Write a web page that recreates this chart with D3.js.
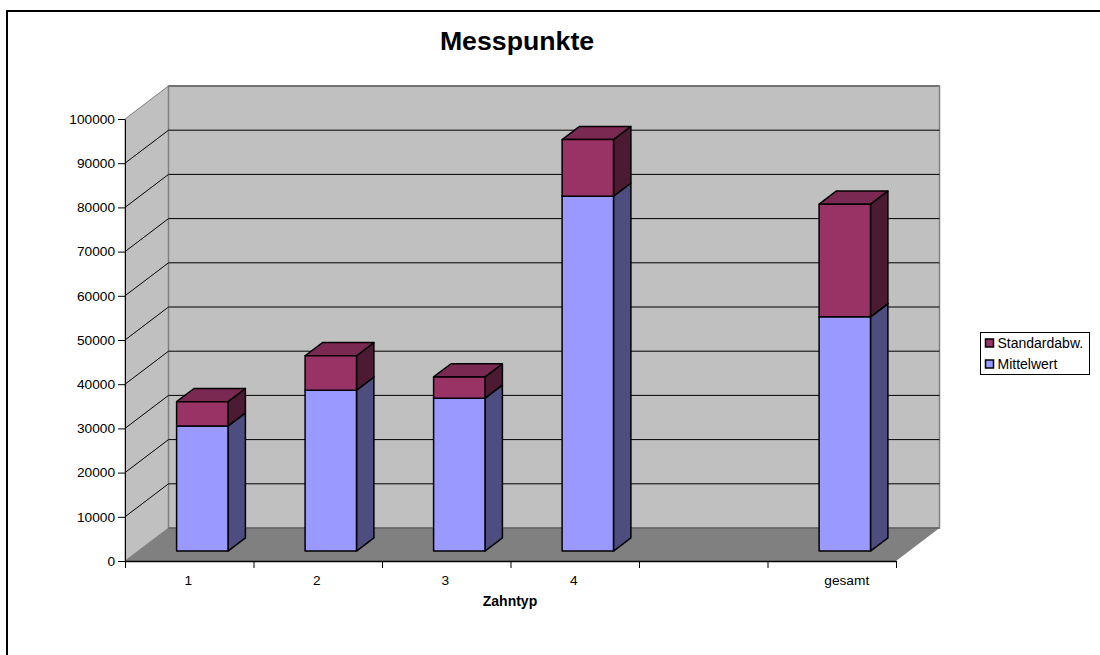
<!DOCTYPE html>
<html>
<head>
<meta charset="utf-8">
<script src="https://cdn.jsdelivr.net/npm/d3@7"></script>
<style>
  html, body { margin: 0; padding: 0; background: #fff; }
  svg { display: block; }
  text { font-family: "Liberation Sans", Arial, sans-serif; fill: #000; }
</style>
</head>
<body>
<div id="chart"></div>
<script>
const categories = ["1", "2", "3", "4", "", "gesamt"];
const mittelwert = [28300, 36400, 34600, 80300, null, 53000];
const standardabw = [5500, 7800, 4800, 12800, null, 25500];
const yTicks = [0, 10000, 20000, 30000, 40000, 50000, 60000, 70000, 80000, 90000, 100000];

const width = 1100, height = 655;
const plot = { left: 125, right: 896, top: 119, bottom: 561 };
const depth = { dx: 43.5, dy: -33 };
// bars stand from 30% to 70% of the floor depth
const barDepth = [0.3, 0.7];
const labelSize = "13.7px";

const colors = {
  wall: "#c0c0c0", floor: "#808080", wallEdge: "#808080",
  mean: ["#9999ff", "#7a7acc", "#4d4d80"],
  sd: ["#993366", "#7a2952", "#4d1a33"]
};

const svg = d3.select("#chart").append("svg")
  .attr("width", width)
  .attr("height", height);

const xScale = d3.scaleBand()
  .domain(d3.range(categories.length))
  .range([plot.left, plot.right])
  .paddingInner(0.6)
  .paddingOuter(0.3);

const slot = xScale.step();
const yScale = d3.scaleLinear().domain([0, 100000]).range([plot.bottom, plot.top]);

// project x / y / depth (0..1) on to the page
const pt = (x, y, z) => [x + depth.dx * z, y + depth.dy * z];
const poly = (pts) => pts.map(p => p.join(",")).join(" ");

// frame, only top and left are visible in the picture
svg.append("line").attr("x1", 6.5).attr("x2", width).attr("y1", 11).attr("y2", 11)
  .attr("stroke", "#000").attr("stroke-width", 2);
svg.append("line").attr("x1", 7).attr("x2", 7).attr("y1", 10).attr("y2", height)
  .attr("stroke", "#000").attr("stroke-width", 2);

// walls
const y0 = yScale(0), yMax = yScale(100000);
svg.append("polygon")
  .attr("points", poly([pt(plot.left, y0, 0), pt(plot.left, yMax, 0), pt(plot.left, yMax, 1), pt(plot.left, y0, 1)]))
  .attr("fill", colors.wall).attr("stroke", colors.wallEdge).attr("stroke-width", 1);
svg.append("polygon")
  .attr("points", poly([pt(plot.left, y0, 1), pt(plot.left, yMax, 1), pt(plot.right, yMax, 1), pt(plot.right, y0, 1)]))
  .attr("fill", colors.wall).attr("stroke", colors.wallEdge).attr("stroke-width", 1.5);
svg.append("polygon")
  .attr("points", poly([pt(plot.left, y0, 0), pt(plot.right, y0, 0), pt(plot.right, y0, 1), pt(plot.left, y0, 1)]))
  .attr("fill", colors.floor).attr("stroke", "none");

// gridlines along side wall and back wall
const grid = svg.append("g").attr("fill", "none").attr("stroke", "#000").attr("stroke-width", 1);
yTicks.filter(d => d > 0 && d < 100000).forEach(d => {
  const y = yScale(d);
  grid.append("polyline")
    .attr("points", poly([pt(plot.left, y, 0), pt(plot.left, y, 1), pt(plot.right, y, 1)]));
});
svg.append("line")
  .attr("x1", pt(plot.left, y0, 1)[0]).attr("x2", pt(plot.right, y0, 1)[0])
  .attr("y1", pt(plot.left, y0, 1)[1]).attr("y2", pt(plot.left, y0, 1)[1])
  .attr("stroke", "#555").attr("stroke-width", 1);
svg.append("line")
  .attr("x1", pt(plot.left, yMax, 1)[0]).attr("x2", pt(plot.right, yMax, 1)[0])
  .attr("y1", pt(plot.left, yMax, 1)[1]).attr("y2", pt(plot.left, yMax, 1)[1])
  .attr("stroke", "#666").attr("stroke-width", 1.5);

// axes
const yAxis = d3.axisLeft(yScale).tickValues(yTicks).tickFormat(d3.format("d")).tickSize(7).tickPadding(3).tickSizeOuter(0);
const yG = svg.append("g").attr("transform", `translate(${plot.left},0)`).call(yAxis);
yG.selectAll("text").style("font-size", labelSize).attr("fill", "#000");

const xAxisScale = d3.scaleLinear().domain([0, categories.length]).range([plot.left, plot.right]);
const xG = svg.append("g").attr("transform", `translate(0,${plot.bottom})`)
  .call(d3.axisBottom(xAxisScale).tickValues(d3.range(categories.length + 1)).tickFormat("").tickSize(7).tickSizeOuter(0));
xG.select(".domain").attr("stroke-width", 1.5);

// the last label sits right of its slot centre in the reference
const labelShift = (d) => d === "gesamt" ? 15 : -1;
svg.append("g").selectAll("text")
  .data(categories)
  .join("text")
  .attr("x", (d, i) => xScale(i) + xScale.bandwidth() / 2 + labelShift(d))
  .attr("y", 585)
  .attr("text-anchor", "middle")
  .style("font-size", labelSize)
  .text(d => d);

svg.append("text")
  .attr("x", 510).attr("y", 606)
  .attr("text-anchor", "middle")
  .style("font-size", "14px").style("font-weight", "bold")
  .text("Zahntyp");

svg.append("text")
  .attr("x", 517).attr("y", 50)
  .attr("text-anchor", "middle")
  .style("font-size", "26.7px").style("font-weight", "bold")
  .text("Messpunkte");

// one stacked segment drawn as a box
function drawBox(g, i, from, to, fills) {
  const xa = xScale(i), xb = xa + xScale.bandwidth();
  const ya = yScale(from), yb = yScale(to);
  const [z0, z1] = barDepth;
  const stroke = { stroke: "#000", "stroke-width": 1.5, "stroke-linejoin": "round" };
  const add = (pts, fill) => {
    const p = g.append("polygon").attr("points", poly(pts)).attr("fill", fill);
    Object.entries(stroke).forEach(([k, v]) => p.attr(k, v));
  };
  add([pt(xb, ya, z0), pt(xb, ya, z1), pt(xb, yb, z1), pt(xb, yb, z0)], fills[2]);
  add([pt(xa, yb, z0), pt(xb, yb, z0), pt(xb, yb, z1), pt(xa, yb, z1)], fills[1]);
  add([pt(xa, ya, z0), pt(xb, ya, z0), pt(xb, yb, z0), pt(xa, yb, z0)], fills[0]);
}

const bars = svg.append("g");
categories.forEach((c, i) => {
  if (mittelwert[i] == null) return;
  const g = bars.append("g").attr("class", "bar");
  drawBox(g, i, 0, mittelwert[i], colors.mean);
  drawBox(g, i, mittelwert[i], mittelwert[i] + standardabw[i], colors.sd);
});

// legend
const legend = svg.append("g").attr("transform", "translate(980.5,332.5)");
legend.append("rect").attr("width", 109).attr("height", 42)
  .attr("fill", "#fff").attr("stroke", "#000").attr("stroke-width", 1);
[["Standardabw.", colors.sd[0]], ["Mittelwert", colors.mean[0]]].forEach(([label, fill], i) => {
  legend.append("rect").attr("x", 5).attr("y", 6.5 + i * 21).attr("width", 8).attr("height", 8)
    .attr("fill", fill).attr("stroke", "#000").attr("stroke-width", 1.5);
  legend.append("text").attr("x", 17).attr("y", 15.5 + i * 21)
    .style("font-size", "14px").text(label);
});
</script>
</body>
</html>
